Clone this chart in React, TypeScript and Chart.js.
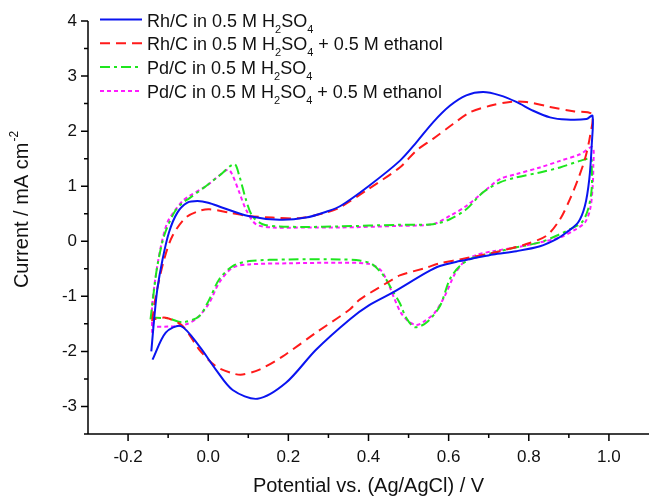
import React, { useEffect, useRef } from 'react';
import { Chart, registerables } from 'chart.js';

Chart.register(...registerables);

// Potential (V) / current density (mA cm^-2) pairs
const rhAcid: number[][] = [
  [-0.142, -2.0], [-0.135, -1.42], [-0.127, -0.87], [-0.114, -0.33], [-0.098, 0.16], [-0.077, 0.52],
  [-0.052, 0.7], [-0.027, 0.73], [0.0, 0.7], [0.036, 0.61], [0.1, 0.46], [0.178, 0.39], [0.244, 0.43],
  [0.3, 0.55], [0.33, 0.64], [0.4, 1.0], [0.478, 1.46], [0.52, 1.8], [0.561, 2.16], [0.603, 2.46],
  [0.644, 2.65], [0.686, 2.71], [0.728, 2.65], [0.769, 2.53], [0.811, 2.37], [0.853, 2.25], [0.894, 2.21],
  [0.944, 2.22], [0.959, 2.28],
  [0.957, 1.74], [0.951, 1.13], [0.94, 0.64], [0.923, 0.34], [0.894, 0.16], [0.869, 0.04], [0.828, -0.09],
  [0.769, -0.18], [0.711, -0.24], [0.669, -0.3], [0.628, -0.36], [0.578, -0.45], [0.544, -0.57],
  [0.461, -0.93], [0.4, -1.17], [0.353, -1.42], [0.269, -1.97], [0.194, -2.57], [0.123, -2.86],
  [0.061, -2.7], [0.019, -2.33], [-0.022, -1.91], [-0.068, -1.54], [-0.106, -1.66], [-0.139, -2.15],
];

const rhEthanol: number[][] = [
  [-0.14, -1.45], [-0.131, -1.0], [-0.11, -0.33], [-0.089, 0.1], [-0.056, 0.43], [-0.0225, 0.55],
  [0.0025, 0.58], [0.0525, 0.52], [0.1, 0.46], [0.16, 0.43], [0.2275, 0.42], [0.294, 0.52], [0.3275, 0.61],
  [0.4, 0.95], [0.478, 1.34], [0.52, 1.65], [0.561, 1.86], [0.611, 2.13], [0.653, 2.34], [0.703, 2.46],
  [0.753, 2.53], [0.794, 2.53], [0.853, 2.44], [0.911, 2.36], [0.957, 2.31],
  [0.953, 1.92], [0.94, 1.49], [0.923, 1.13], [0.903, 0.77], [0.878, 0.4], [0.844, 0.1], [0.794, -0.05],
  [0.728, -0.18], [0.669, -0.27], [0.628, -0.33], [0.578, -0.4], [0.544, -0.48], [0.478, -0.62],
  [0.461, -0.69], [0.378, -1.06], [0.353, -1.24], [0.269, -1.66], [0.186, -2.09], [0.128, -2.33],
  [0.086, -2.42], [0.061, -2.4], [0.019, -2.27], [-0.022, -1.97], [-0.064, -1.54], [-0.106, -1.39],
  [-0.14, -1.42],
];

const pdAcid: number[][] = [
  [-0.144, -1.42], [-0.135, -0.87], [-0.127, -0.45], [-0.11, 0.1], [-0.085, 0.52], [-0.064, 0.7],
  [-0.0475, 0.78], [-0.006, 1.0], [0.0275, 1.19], [0.065, 1.4], [0.0775, 1.19], [0.094, 0.76],
  [0.11, 0.46], [0.136, 0.31], [0.178, 0.27], [0.244, 0.26], [0.3275, 0.27], [0.478, 0.3], [0.561, 0.31],
  [0.603, 0.4], [0.644, 0.58], [0.686, 0.89], [0.728, 1.07], [0.769, 1.16], [0.828, 1.25], [0.878, 1.34],
  [0.928, 1.46], [0.955, 1.5],
  [0.957, 1.37], [0.957, 0.95], [0.948, 0.58], [0.932, 0.34], [0.903, 0.22], [0.869, 0.1], [0.828, -0.02],
  [0.769, -0.11], [0.711, -0.21], [0.661, -0.3], [0.628, -0.45], [0.603, -0.69], [0.578, -1.18],
  [0.544, -1.48], [0.515, -1.56], [0.494, -1.39], [0.478, -1.12], [0.46, -0.9], [0.44, -0.65],
  [0.41, -0.42], [0.378, -0.35], [0.3275, -0.33], [0.2025, -0.33], [0.1025, -0.36], [0.061, -0.45],
  [0.0275, -0.69], [0.0025, -1.06], [-0.0225, -1.36], [-0.064, -1.47], [-0.1, -1.4], [-0.144, -1.39],
];

const pdEthanol: number[][] = [
  [-0.14, -1.66], [-0.14, -1.18], [-0.131, -0.63], [-0.118, -0.09], [-0.102, 0.34], [-0.081, 0.58],
  [-0.064, 0.73], [-0.0475, 0.82], [-0.006, 1.0], [0.048, 1.3], [0.058, 1.24], [0.0775, 0.89],
  [0.094, 0.58], [0.119, 0.31], [0.161, 0.25], [0.244, 0.25], [0.3275, 0.25], [0.478, 0.28], [0.561, 0.31],
  [0.603, 0.46], [0.644, 0.64], [0.686, 0.89], [0.728, 1.13], [0.769, 1.22], [0.828, 1.34], [0.878, 1.46],
  [0.928, 1.58], [0.959, 1.71],
  [0.961, 1.37], [0.959, 0.95], [0.953, 0.58], [0.94, 0.34], [0.911, 0.19], [0.878, 0.07], [0.828, -0.02],
  [0.769, -0.11], [0.711, -0.18], [0.669, -0.25], [0.64, -0.36], [0.615, -0.6], [0.59, -1.0],
  [0.565, -1.3], [0.536, -1.47], [0.519, -1.52], [0.499, -1.45], [0.481, -1.3], [0.465, -1.05],
  [0.45, -0.78], [0.43, -0.52], [0.4, -0.41], [0.3275, -0.39], [0.2025, -0.4], [0.1025, -0.42],
  [0.061, -0.48], [0.0275, -0.75], [0.0025, -1.12], [-0.027, -1.39], [-0.056, -1.51], [-0.1, -1.55],
  [-0.14, -1.55],
];

const xMajorTicks = [-0.2, 0.0, 0.2, 0.4, 0.6, 0.8, 1.0];
const xMinorTicks = [-0.1, 0.1, 0.3, 0.5, 0.7, 0.9];
const yMajorTicks = [-3, -2, -1, 0, 1, 2, 3, 4];
const yMinorTicks = [-3.5, -2.5, -1.5, -0.5, 0.5, 1.5, 2.5, 3.5];

// legend entries: [before sub, sub, middle, sub, after]
const legendParts: string[][] = [
  ['Rh/C in 0.5 M H', '2', 'SO', '4', ''],
  ['Rh/C in 0.5 M H', '2', 'SO', '4', ' + 0.5 M ethanol'],
  ['Pd/C in 0.5 M H', '2', 'SO', '4', ''],
  ['Pd/C in 0.5 M H', '2', 'SO', '4', ' + 0.5 M ethanol'],
];

const seriesColors = ['#0a14f0', '#ff1a1a', '#1ee61e', '#ff1aff'];
const seriesDashes: number[][] = [[], [10, 6], [10, 4, 3, 4], [4, 3]];

const FONT = '"Liberation Sans", Arial, Helvetica, sans-serif';

const framePlugin = {
  id: 'framePlugin',
  afterDraw(chart: any) {
    const ctx = chart.ctx as CanvasRenderingContext2D;
    const xs = chart.scales.x;
    const ys = chart.scales.y;
    const { left, right, top, bottom } = chart.chartArea;
    ctx.save();
    ctx.strokeStyle = '#000';
    ctx.lineWidth = 1.5;
    ctx.setLineDash([]);
    ctx.beginPath();
    ctx.moveTo(left, top);
    ctx.lineTo(left, bottom);
    ctx.moveTo(left - 4, bottom);
    ctx.lineTo(right, bottom);
    for (const v of xMajorTicks) {
      const p = xs.getPixelForValue(v);
      ctx.moveTo(p, bottom);
      ctx.lineTo(p, bottom + 7);
    }
    for (const v of xMinorTicks) {
      const p = xs.getPixelForValue(v);
      ctx.moveTo(p, bottom);
      ctx.lineTo(p, bottom + 4);
    }
    for (const v of yMajorTicks) {
      const p = ys.getPixelForValue(v);
      ctx.moveTo(left, p);
      ctx.lineTo(left - 7, p);
    }
    for (const v of yMinorTicks) {
      const p = ys.getPixelForValue(v);
      ctx.moveTo(left, p);
      ctx.lineTo(left - 4, p);
    }
    ctx.stroke();

    // axis titles
    ctx.fillStyle = '#111';
    ctx.textBaseline = 'alphabetic';
    ctx.font = `20px ${FONT}`;
    ctx.textAlign = 'center';
    ctx.fillText('Potential vs. (Ag/AgCl) / V', (left + right) / 2, 492);

    ctx.save();
    const main = 'Current / mA cm';
    const sup = '-2';
    ctx.font = `20px ${FONT}`;
    const wMain = ctx.measureText(main).width;
    ctx.font = `12px ${FONT}`;
    const wSup = ctx.measureText(sup).width;
    const total = wMain + wSup + 1;
    ctx.translate(28, (top + bottom) / 2 - 18);
    ctx.rotate(-Math.PI / 2);
    ctx.textAlign = 'left';
    ctx.font = `20px ${FONT}`;
    ctx.fillText(main, -total / 2, 0);
    ctx.font = `12px ${FONT}`;
    ctx.fillText(sup, -total / 2 + wMain + 1, -10);
    ctx.restore();

    // legend
    const lx0 = 100;
    const lx1 = 142;
    const tx = 147;
    legendParts.forEach((parts, i) => {
      const base = 26.5 + i * 23.8;
      ctx.strokeStyle = seriesColors[i];
      ctx.lineWidth = 2;
      ctx.setLineDash(seriesDashes[i]);
      ctx.beginPath();
      ctx.moveTo(lx0, base - 7);
      ctx.lineTo(lx1, base - 7);
      ctx.stroke();
      ctx.setLineDash([]);
      ctx.fillStyle = '#111';
      ctx.textAlign = 'left';
      let x = tx;
      parts.forEach((s, k) => {
        const isSub = k === 1 || k === 3;
        ctx.font = isSub ? `11px ${FONT}` : `18px ${FONT}`;
        ctx.fillText(s, x, isSub ? base + 6 : base);
        x += ctx.measureText(s).width;
      });
    });
    ctx.restore();
  },
};

export default function App() {
  const ref = useRef<HTMLCanvasElement | null>(null);

  useEffect(() => {
    if (!ref.current) return;
    const labels = ['Rh/C acid', 'Rh/C ethanol', 'Pd/C acid', 'Pd/C ethanol'];
    const sets = [rhAcid, rhEthanol, pdAcid, pdEthanol];
    const chart = new Chart(ref.current, {
      type: 'scatter',
      data: {
        datasets: sets.map((pts, i) => ({
          label: labels[i],
          data: pts.map(([x, y]) => ({ x, y })),
          showLine: true,
          borderColor: seriesColors[i],
          backgroundColor: seriesColors[i],
          borderWidth: 2,
          borderDash: seriesDashes[i],
          pointRadius: 0,
          tension: 0.3,
          fill: false,
        })),
      },
      options: {
        responsive: false,
        animation: false,
        events: [],
        layout: { padding: { top: 21, right: 0, left: 0, bottom: 0 } },
        plugins: { legend: { display: false }, tooltip: { enabled: false } },
        scales: {
          x: {
            type: 'linear',
            min: -0.3,
            max: 1.1,
            afterFit: (s: any) => { s.height = 63; },
            afterBuildTicks: (s: any) => { s.ticks = xMajorTicks.map((v) => ({ value: v })); },
            grid: { display: false, drawTicks: true, tickLength: 7 },
            border: { display: false },
            ticks: {
              padding: 6,
              color: '#111',
              font: { family: FONT, size: 17 },
              maxRotation: 0,
              callback: (v: any) => Number(v).toFixed(1),
            },
          },
          y: {
            type: 'linear',
            min: -3.5,
            max: 4,
            afterFit: (s: any) => { s.width = 88; },
            afterBuildTicks: (s: any) => { s.ticks = yMajorTicks.map((v) => ({ value: v })); },
            grid: { display: false, drawTicks: true, tickLength: 7 },
            border: { display: false },
            ticks: {
              padding: 4,
              color: '#111',
              font: { family: FONT, size: 17 },
              callback: (v: any) => String(v),
            },
          },
        },
      },
      plugins: [framePlugin],
    });
    return () => chart.destroy();
  }, []);

  return (
    <div style={{ position: 'absolute', left: 0, top: 0, width: 649, height: 497, background: '#fff' }}>
      <canvas ref={ref} width={649} height={497} />
    </div>
  );
}
